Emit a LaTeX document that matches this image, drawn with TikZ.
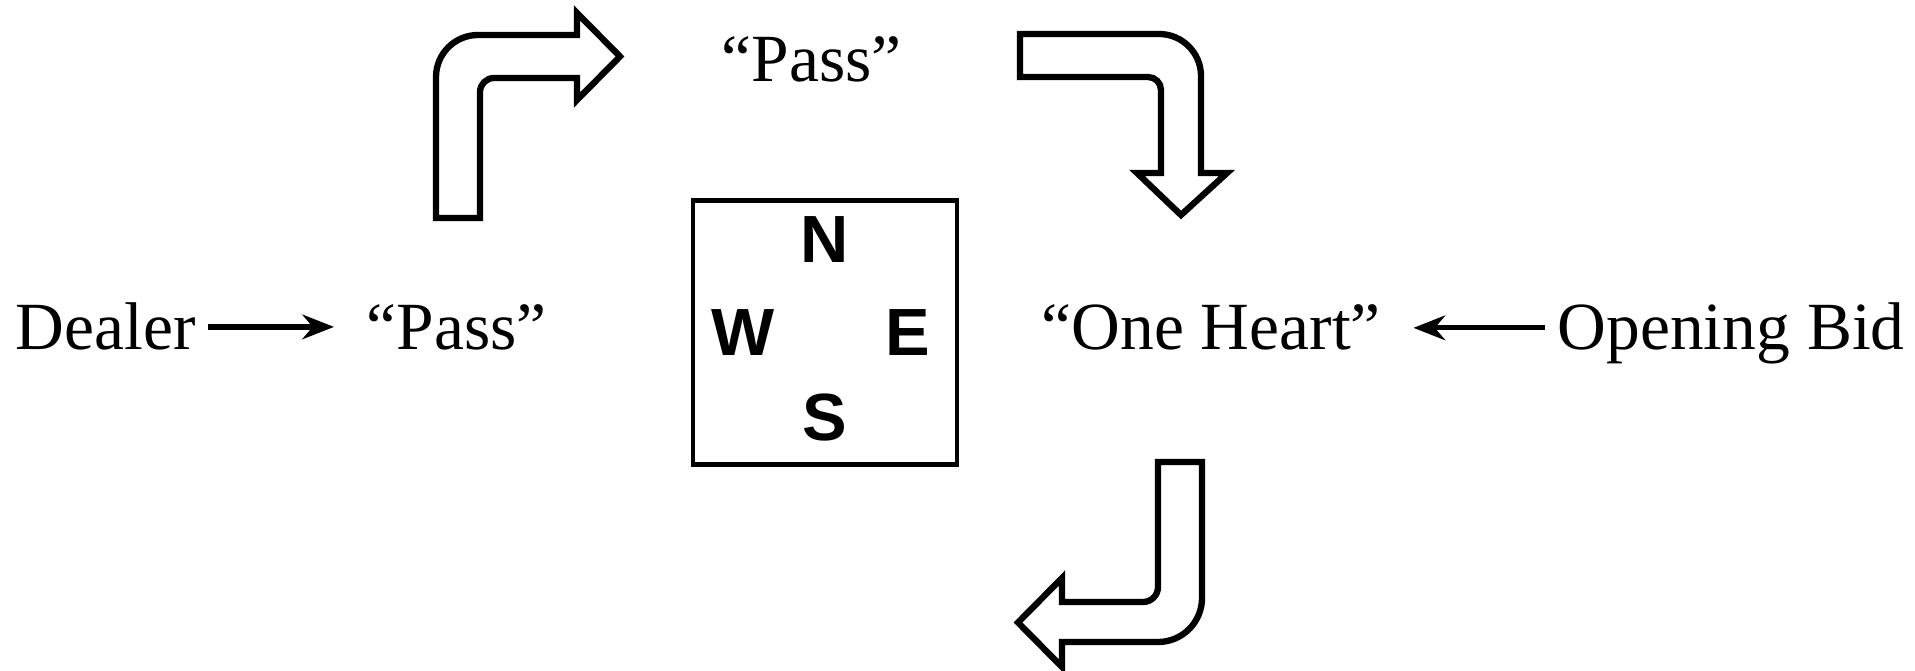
\documentclass[tikz,border=0pt]{standalone}
\usepackage{fontspec}
\setmainfont{Liberation Serif}
\newfontfamily\compassfont{Liberation Sans}
\usetikzlibrary{arrows.meta}

\tikzset{
    said/.style={inner sep=0pt, anchor=base west, font=\fontsize{19.2}{23}\selectfont},
    bidarrow/.style={-{Stealth[length=9pt,width=7pt]}, line width=1.5pt, shorten <=0.12cm, shorten >=0.32cm},
    turnarrow/.style={line width=1.8pt, line join=miter},
    compassletter/.style={inner sep=0pt, font=\compassfont\bfseries\fontsize{19}{23}\selectfont}
}

\begin{document}
\begin{tikzpicture}
        \useasboundingbox (0,0) rectangle (19.15,6.7);

        % the calls
        \node[said] (dealer) at (0.15,3.20) {Dealer};
        \node[said] (passwest) at (3.66,3.20) {“Pass”};
        \node[said] (passnorth) at (7.21,5.88) {“Pass”};
        \node[said] (heart) at (10.41,3.20) {“One Heart”};
        \node[said] (opening) at (15.57,3.20) {Opening Bid};

        \draw[bidarrow] (dealer) -- (passwest.west |- dealer);
        \draw[bidarrow] (opening.west |- heart) -- (heart);

        % the table
        \node[draw, line width=1.4pt, minimum size=2.64cm, inner sep=0pt] (table) at (8.25,3.375) {};
        \node[compassletter] (north) at (8.25,4.30) {N};
        \node[compassletter] (west) at (7.43,3.37) {W};
        \node[compassletter] (east) at (9.08,3.37) {E};
        \node[compassletter] (south) at (8.25,2.52) {S};

        % turns of the bidding
        \draw[turnarrow] (4.80,4.52) -- (4.36,4.52) -- (4.36,5.93)
            arc[start angle=180,end angle=90,radius=0.42] -- (5.77,6.35) -- (5.77,6.57)
            -- (6.20,6.135) -- (5.77,5.70) -- (5.77,5.92) -- (4.94,5.92)
            arc[start angle=90,end angle=180,radius=0.14] -- cycle;

        \draw[turnarrow] (10.20,5.93) -- (10.20,6.36) -- (11.59,6.36)
            arc[start angle=90,end angle=0,radius=0.42] -- (12.01,4.97) -- (12.27,4.97)
            -- (11.81,4.55) -- (11.37,4.97) -- (11.61,4.97) -- (11.61,5.80)
            arc[start angle=0,end angle=90,radius=0.13] -- cycle;

        \draw[turnarrow] (11.58,2.08) -- (12.02,2.08) -- (12.02,0.72)
            arc[start angle=0,end angle=-90,radius=0.44] -- (10.62,0.28) -- (10.62,0.03)
            -- (10.18,0.475) -- (10.62,0.92) -- (10.62,0.68) -- (11.43,0.68)
            arc[start angle=-90,end angle=0,radius=0.15] -- cycle;

\end{tikzpicture}
\end{document}
